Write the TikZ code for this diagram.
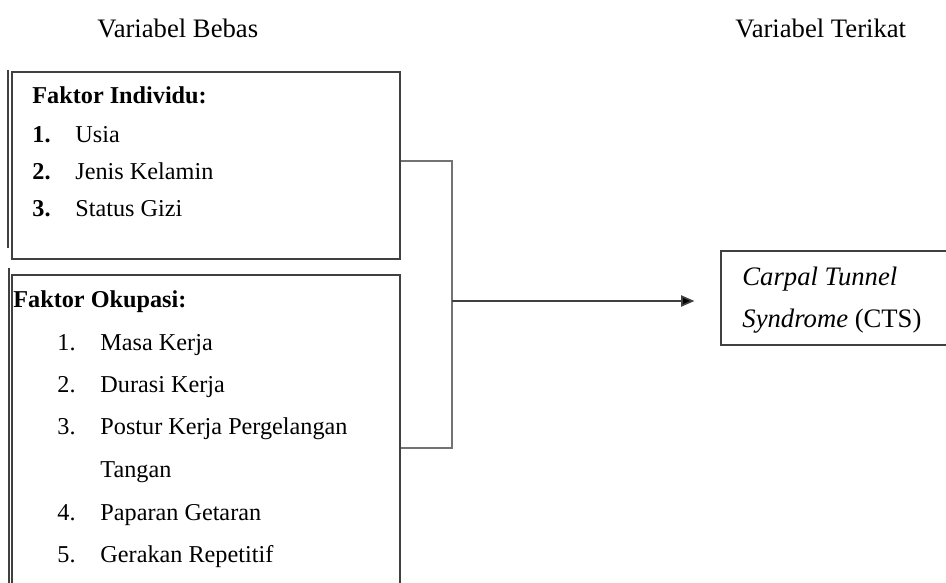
\documentclass[tikz,border=0pt]{standalone}
\usepackage{fontspec}
\setmainfont{Liberation Serif}
\usetikzlibrary{positioning,fit,arrows.meta}

\begin{document}
\begin{tikzpicture}[x=0.45pt,y=-0.45pt,>={Triangle[length=6pt,width=5pt]},
		kotak/.style={rectangle,draw=black!75,line width=0.5pt,inner sep=0pt},
		tepi/.style={draw=black!75,line width=0.5pt},
		teks/.style={anchor=base west,inner sep=0pt,font=\fontsize{12}{14}\selectfont},
		isi/.style={teks,font=\fontsize{10.9}{13}\selectfont},
		garis/.style={draw=black!55,line width=0.75pt}]
		\useasboundingbox (0,0) rectangle (946,583);
		
		\node[teks]  (bebas)    at (97,37)   {Variabel Bebas};
		\node[teks]  (terikat)  at (735,37)  {Variabel Terikat};
		
		\node[kotak] (individu) [fit={(12,72) (400,259)}] {};
		\node[kotak] (okupasi)  [fit={(12,275) (400,600)}] {};
		\node[kotak] (cts)      [fit={(721,251) (960,345)}] {};
		\draw[tepi] (8,70) -- (8,248);
		\draw[tepi] (9,268) -- (9,600);
		
		\node[isi]   (indjudul) at (32,103)  {\textbf{Faktor Individu:}};
		\node[isi]   (ind1n)    at (32,142)  {\textbf{1.}};
		\node[isi]   (ind1)     at (75,142)  {Usia};
		\node[isi]   (ind2n)    at (32,179)  {\textbf{2.}};
		\node[isi]   (ind2)     at (75,179)  {Jenis Kelamin};
		\node[isi]   (ind3n)    at (32,216)  {\textbf{3.}};
		\node[isi]   (ind3)     at (75,216)  {Status Gizi};
		
		\node[isi]   (okjudul)  at (13,307)  {\textbf{Faktor Okupasi:}};
		\node[isi]   (ok1n)     at (57,350)  {1.};
		\node[isi]   (ok1)      at (100,350) {Masa Kerja};
		\node[isi]   (ok2n)     at (57,392)  {2.};
		\node[isi]   (ok2)      at (100,392) {Durasi Kerja};
		\node[isi]   (ok3n)     at (57,434)  {3.};
		\node[isi]   (ok3)      at (100,434) {Postur Kerja Pergelangan};
		\node[isi]   (ok3b)     at (100,477) {Tangan};
		\node[isi]   (ok4n)     at (57,520)  {4.};
		\node[isi]   (ok4)      at (100,520) {Paparan Getaran};
		\node[isi]   (ok5n)     at (57,562)  {5.};
		\node[isi]   (ok5)      at (100,562) {Gerakan Repetitif};
		
		\node[teks]  (cts1)     at (742,285) {\textit{Carpal Tunnel}};
		\node[teks]  (cts2)     at (742,327) {\textit{Syndrome} (CTS)};
		
		\coordinate (atas)   at (452,161);
		\coordinate (bawah)  at (452,448);
		\coordinate (cabang) at (452,301);
		
		\draw[garis] (individu.east |- atas) -- (atas) -- (bawah) -- (okupasi.east |- bawah);
		\draw[garis,draw=black!75,-{Triangle[length=6pt,width=5pt,fill=black]},shorten >=11.7pt] (cabang) -- (cabang -| cts.west);
		
		\end{tikzpicture}
\end{document}
